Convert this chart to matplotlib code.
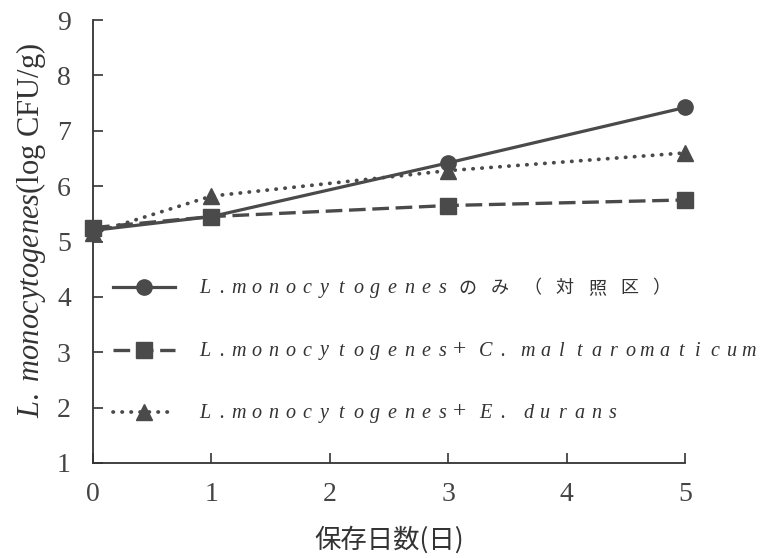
import matplotlib
matplotlib.use("Agg")
import matplotlib.pyplot as plt

# storage days and counts (log CFU/g)
days = [0, 1, 3, 5]
lm_only = [5.2, 5.45, 6.42, 7.42]
lm_cm = [5.25, 5.45, 5.65, 5.75]
lm_ed = [5.15, 5.82, 6.28, 6.6]

series_labels = [
    "L.monocytogenesのみ（対照区）",
    "L.monocytogenes+ C. maltaromaticum",
    "L.monocytogenes+ E. durans",
]
x_ticks = [0, 1, 2, 3, 4, 5]
y_ticks = [1, 2, 3, 4, 5, 6, 7, 8, 9]

plt.rcParams['font.family'] = ['Liberation Serif', 'Noto Sans CJK JP']
plt.rcParams['mathtext.fontset'] = 'custom'
plt.rcParams['mathtext.it'] = 'Liberation Serif:italic'
plt.rcParams['mathtext.rm'] = 'Liberation Serif'

W, H = 764, 558
fig = plt.figure(figsize=(W / 100, H / 100), dpi=100)
ax = fig.add_axes([93 / W, 1 - 463 / H, (685 - 93) / W, (463 - 20) / H])

ink = '#4a4a4a'
l1, = ax.plot(days, lm_only, linestyle='-', marker='o', color=ink, lw=2.3,
              ms=11, clip_on=False, zorder=3)
l2, = ax.plot(days, lm_cm, linestyle=(0, (5, 2)), marker='s', color=ink,
              lw=2.4, ms=11, clip_on=False, zorder=3)
l3, = ax.plot(days, lm_ed, linestyle=(0, (0.1, 2.3)), dash_capstyle='round',
              marker='^', color=ink, lw=2.7, ms=12, clip_on=False, zorder=3)

ax.set_xlim(0, 5)
ax.set_ylim(1, 9)
ax.set_xticks(x_ticks)
ax.set_yticks(y_ticks)
for s in ['top', 'right']:
    ax.spines[s].set_visible(False)
for s in ['left', 'bottom']:
    ax.spines[s].set_linewidth(1.3)
    ax.spines[s].set_color('#333333')
ax.tick_params(direction='in', length=7, width=1.2, color='#333333',
               labelsize=20, labelcolor='#444444')
ax.tick_params(axis='y', pad=16)
ax.tick_params(axis='x', pad=14)

ax.set_ylabel(r'$\mathit{L.\ monocytogenes}$(log CFU/g)', fontsize=22,
              color='#333333')
ax.yaxis.label.set_va('center')
ax.yaxis.set_label_coords(-0.105, 0.526)

ax.set_xlabel('保存日数(日)', fontfamily=['Noto Sans CJK JP'], fontsize=19,
              color='#333333')
ax.xaxis.label.set_va('center')
ax.xaxis.set_label_coords(0.5, (463 - 540) / 443)

# legend keys only; the spaced labels are written next to them below
leg = ax.legend([l1, l2, l3], ['', '', ''], loc='upper left',
                bbox_to_anchor=(113 / W, 1 - 281 / H),
                bbox_transform=fig.transFigure, frameon=False,
                borderpad=0, borderaxespad=0, handlelength=3.7,
                handletextpad=0, labelspacing=2.78, fontsize=12)

fig.canvas.draw()
renderer = fig.canvas.get_renderer()

adv = 17.0
x_start = 205
for line, text in zip(leg.get_lines(), series_labels):
    bb = line.get_window_extent(renderer)
    yc = (bb.y0 + bb.y1) / 2
    u = 0.0
    for ch in text:
        wide = ord(ch) > 0x3000
        w = 1.9 if wide else (0.5 if ch == ' ' else 1.0)
        if ch != ' ':
            cx = x_start + (u + w / 2 - 0.5) * adv
            if wide:
                fig.text(cx / W, (yc - 6) / H, ch, ha='center', va='baseline',
                         fontsize=13, family=['Noto Sans CJK JP'],
                         color='#333333')
            elif ch == '+':
                fig.text(cx / W, yc / H, ch, ha='center', va='center',
                         fontsize=17, family=['Liberation Serif'],
                         color='#333333')
            else:
                fig.text(cx / W, (yc - 6) / H, ch, ha='center', va='baseline',
                         fontsize=14.5, family=['Liberation Serif'],
                         style='italic', color='#333333')
        u += w

fig.savefig('out.png', dpi=100)
